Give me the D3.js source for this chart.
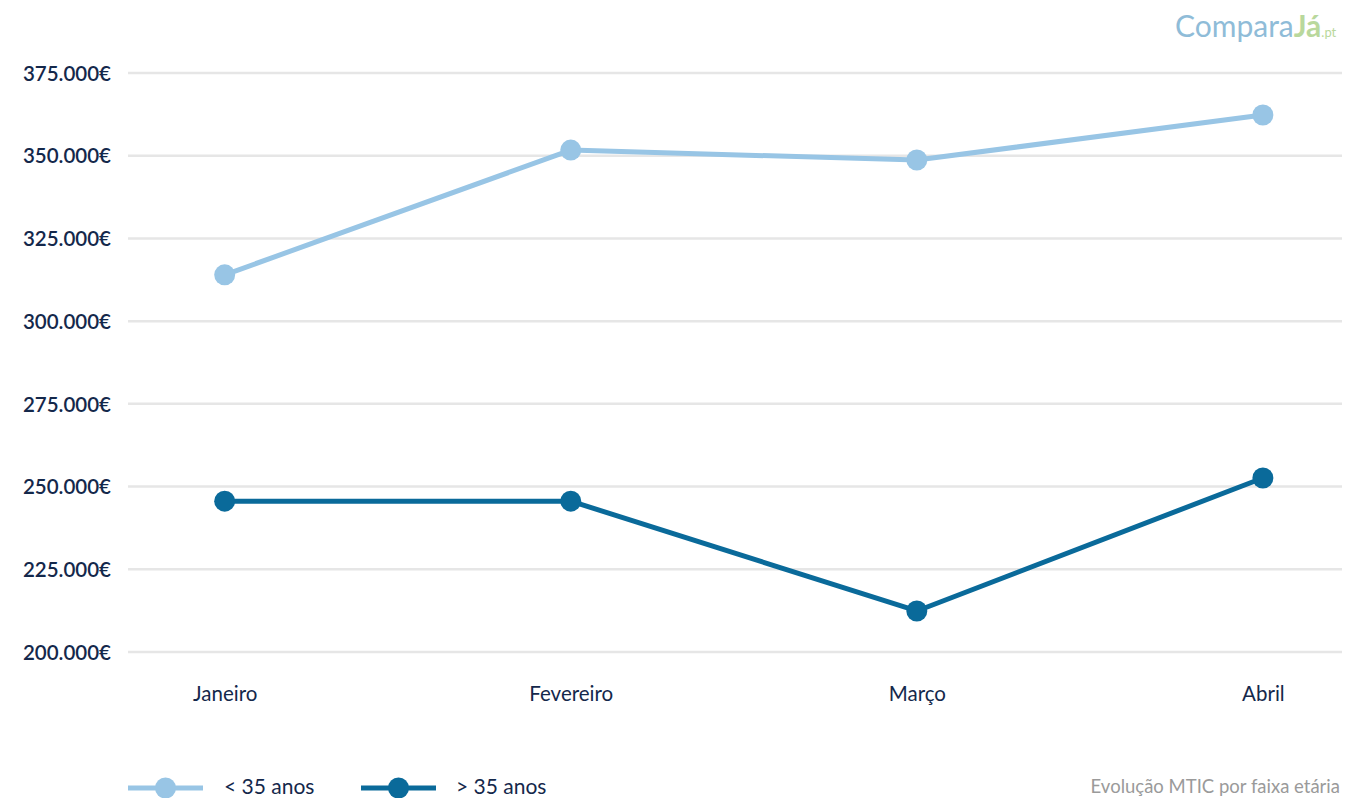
<!DOCTYPE html>
<html>
<head>
<meta charset="utf-8">
<script src="https://cdn.jsdelivr.net/npm/d3@7"></script>
<style>
html,body{margin:0;padding:0;background:#fff;}
svg{display:block;font-family:"Lato","Noto Sans",sans-serif;}
</style>
</head>
<body>
<svg id="chart" width="1345" height="798"></svg>
<script>
const categories = ["Janeiro", "Fevereiro", "Março", "Abril"];
const seriesNames = ["< 35 anos", "> 35 anos"];
const under35 = [314000, 351700, 348700, 362300];
const over35 = [245600, 245600, 212400, 252600];
const yTicks = [200000, 225000, 250000, 275000, 300000, 325000, 350000, 375000];
const colors = ["#98c5e5", "#0a6a9a"];

(function(){
const svg = d3.select("#chart");
const mLeft = 128, mRight = 1342, mTop = 73, mBottom = 652;

const x = d3.scalePoint().domain(categories).range([mLeft, mRight]).padding(0.254).align(0.55);
const y = d3.scaleLinear().domain([200000, 375000]).range([mBottom, mTop]);

const fmt = v => d3.format(",")(v).replace(/,/g, ".") + "€";
const ff = "'Lato','Noto Sans',sans-serif";

// gridlines
svg.append("g").selectAll("line").data(yTicks).join("line")
  .attr("x1", mLeft).attr("x2", mRight)
  .attr("y1", d => y(d)).attr("y2", d => y(d))
  .attr("stroke", "#e6e6e6").attr("stroke-width", 2.5);

// y labels
const yAxis = svg.append("g").attr("transform", `translate(111,0)`)
  .call(d3.axisLeft(y).tickValues(yTicks).tickFormat(fmt).tickSize(0).tickPadding(0));
yAxis.select(".domain").remove();
yAxis.selectAll("text").attr("fill", "#14284b").attr("font-size", 20.5)
  .attr("font-weight", 600)
  .attr("font-family", ff).attr("dy", "0.35em");

// x labels
const xAxis = svg.append("g").attr("transform", `translate(0,${mBottom + 42})`)
  .call(d3.axisBottom(x).tickSize(0).tickPadding(0));
xAxis.select(".domain").remove();
xAxis.selectAll("text").attr("fill", "#14284b").attr("font-size", 20.5)
  .attr("font-family", ff).attr("dy", "0.35em");

const series = [under35, over35];
const line = d3.line().x((d, i) => x(categories[i])).y(d => y(d));
series.forEach((s, si) => {
  svg.append("path").datum(s).attr("d", line)
    .attr("fill", "none").attr("stroke", colors[si]).attr("stroke-width", 5)
    .attr("stroke-linejoin", "round");
  svg.append("g").selectAll("circle").data(s).join("circle")
    .attr("cx", (d, i) => x(categories[i])).attr("cy", d => y(d))
    .attr("r", 10.5).attr("fill", colors[si]);
});

// legend
const legendY = 787;
const legendItems = [{x0: 128, tx: 224}, {x0: 361, tx: 456}];
legendItems.forEach((it, i) => {
  const g = svg.append("g");
  g.append("line").attr("x1", it.x0).attr("x2", it.x0 + 75)
    .attr("y1", legendY + 1).attr("y2", legendY + 1)
    .attr("stroke", colors[i]).attr("stroke-width", 5);
  g.append("circle").attr("cx", it.x0 + 37.5).attr("cy", legendY + 1).attr("r", 10.5).attr("fill", colors[i]);
  g.append("text").attr("x", it.tx).attr("y", legendY).attr("dy", "0.35em")
    .attr("font-size", 21).attr("font-family", ff).attr("fill", "#14284b").text(seriesNames[i]);
});

// footer caption
svg.append("text").attr("x", 1340).attr("y", 787).attr("dy", "0.35em")
  .attr("text-anchor", "end").attr("font-size", 18.5).attr("font-family", ff).attr("fill", "#9a9a9a")
  .text("Evolução MTIC por faixa etária");

// logo
const logo = svg.append("g").attr("transform", "translate(1175,37)");
const lt = logo.append("text").attr("font-size", 30).attr("font-family", ff);
lt.append("tspan").attr("fill", "#8fbcd8").text("C");
lt.append("tspan").attr("fill", "#8fbcd8").text("o");
lt.append("tspan").attr("fill", "#8fbcd8").text("mpara");
lt.append("tspan").attr("fill", "#b9d89c").attr("font-weight", "bold").text("Já");
lt.append("tspan").attr("fill", "#b9d89c").attr("font-size", 13).text(".pt");
})();
</script>
</body>
</html>
